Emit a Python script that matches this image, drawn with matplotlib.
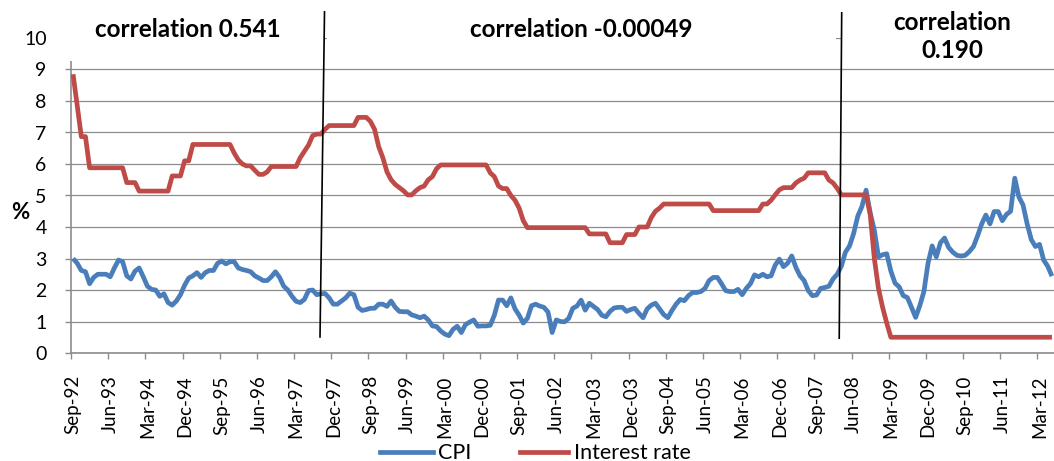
import matplotlib
matplotlib.use('Agg')
import matplotlib.pyplot as plt
from matplotlib.lines import Line2D
from matplotlib.patches import Rectangle
import numpy as np

plt.rcParams['font.family'] = ['Lato', 'DejaVu Sans']

tick_labels = ['Sep-92', 'Jun-93', 'Mar-94', 'Dec-94', 'Sep-95', 'Jun-96', 'Mar-97',
               'Dec-97', 'Sep-98', 'Jun-99', 'Mar-00', 'Dec-00', 'Sep-01', 'Jun-02',
               'Mar-03', 'Dec-03', 'Sep-04', 'Jun-05', 'Mar-06', 'Dec-06', 'Sep-07',
               'Jun-08', 'Mar-09', 'Dec-09', 'Sep-10', 'Jun-11', 'Mar-12']

# monthly values, Sep-92 .. Jun-12
cpi = [
    3.00, 2.85, 2.62, 2.58, 2.20, 2.40, 2.50, 2.50, 2.50, 2.42, 2.70, 2.95,
    2.90, 2.45, 2.35, 2.60, 2.70, 2.42, 2.12, 2.02, 2.00, 1.80, 1.88, 1.60,
    1.52, 1.65, 1.85, 2.15, 2.38, 2.45, 2.55, 2.40, 2.55, 2.62, 2.62, 2.85,
    2.92, 2.83, 2.90, 2.90, 2.70, 2.65, 2.62, 2.58, 2.45, 2.38, 2.30, 2.30,
    2.42, 2.58, 2.40, 2.12, 2.00, 1.80, 1.64, 1.60, 1.70, 1.98, 2.00, 1.85,
    1.88, 1.89, 1.75, 1.55, 1.55, 1.65, 1.75, 1.90, 1.85, 1.45, 1.35, 1.38,
    1.42, 1.42, 1.55, 1.55, 1.48, 1.65, 1.45, 1.32, 1.31, 1.31, 1.21, 1.17,
    1.12, 1.17, 1.05, 0.86, 0.84, 0.70, 0.60, 0.55, 0.75, 0.85, 0.65, 0.90,
    0.98, 1.05, 0.85, 0.86, 0.86, 0.88, 1.20, 1.68, 1.68, 1.50, 1.75, 1.40,
    1.20, 0.95, 1.10, 1.50, 1.55, 1.49, 1.45, 1.30, 0.65, 1.05, 1.00, 0.99,
    1.10, 1.42, 1.49, 1.68, 1.36, 1.58, 1.48, 1.38, 1.20, 1.15, 1.32, 1.43,
    1.45, 1.45, 1.32, 1.38, 1.42, 1.26, 1.12, 1.40, 1.52, 1.58, 1.40, 1.22,
    1.12, 1.35, 1.55, 1.70, 1.66, 1.82, 1.92, 1.92, 1.95, 2.05, 2.30, 2.40,
    2.40, 2.20, 1.98, 1.95, 1.95, 2.02, 1.85, 2.05, 2.20, 2.48, 2.42, 2.50,
    2.42, 2.45, 2.79, 2.98, 2.74, 2.85, 3.08, 2.72, 2.45, 2.30, 1.98, 1.82,
    1.84, 2.05, 2.08, 2.12, 2.35, 2.50, 2.75, 3.20, 3.40, 3.80, 4.35, 4.65,
    5.17, 4.45, 3.90, 3.05, 3.12, 3.15, 2.60, 2.22, 2.10, 1.82, 1.76, 1.45,
    1.13, 1.50, 1.95, 2.85, 3.40, 3.05, 3.50, 3.65, 3.35, 3.20, 3.10, 3.08,
    3.10, 3.22, 3.38, 3.72, 4.10, 4.38, 4.10, 4.49, 4.49, 4.20, 4.40, 4.50,
    5.55, 4.95, 4.70, 4.10, 3.60, 3.38, 3.45, 2.95, 2.75, 2.44,
]

interest_rate = [
    8.85, 7.86, 6.87, 6.87, 5.88, 5.88, 5.88, 5.88, 5.88, 5.88, 5.88, 5.88,
    5.88, 5.41, 5.41, 5.41, 5.14, 5.14, 5.14, 5.14, 5.14, 5.14, 5.14, 5.14,
    5.62, 5.62, 5.62, 6.10, 6.10, 6.62, 6.62, 6.62, 6.62, 6.62, 6.62, 6.62,
    6.62, 6.62, 6.62, 6.35, 6.13, 6.00, 5.94, 5.94, 5.80, 5.67, 5.67, 5.75,
    5.92, 5.92, 5.92, 5.92, 5.92, 5.92, 5.92, 6.20, 6.40, 6.60, 6.90, 6.95,
    6.95, 7.10, 7.22, 7.22, 7.22, 7.22, 7.22, 7.22, 7.22, 7.48, 7.48, 7.48,
    7.35, 7.10, 6.55, 6.20, 5.75, 5.50, 5.35, 5.25, 5.15, 5.02, 5.02, 5.15,
    5.25, 5.30, 5.50, 5.60, 5.85, 5.97, 5.97, 5.97, 5.97, 5.97, 5.97, 5.97,
    5.97, 5.97, 5.97, 5.97, 5.97, 5.72, 5.60, 5.30, 5.22, 5.22, 5.00, 4.85,
    4.60, 4.20, 3.98, 3.98, 3.98, 3.98, 3.98, 3.98, 3.98, 3.98, 3.98, 3.98,
    3.98, 3.98, 3.98, 3.98, 3.98, 3.78, 3.78, 3.78, 3.78, 3.78, 3.50, 3.50,
    3.50, 3.50, 3.76, 3.76, 3.76, 4.00, 4.00, 4.00, 4.30, 4.50, 4.60, 4.73,
    4.73, 4.73, 4.73, 4.73, 4.73, 4.73, 4.73, 4.73, 4.73, 4.73, 4.73, 4.52,
    4.52, 4.52, 4.52, 4.52, 4.52, 4.52, 4.52, 4.52, 4.52, 4.52, 4.52, 4.73,
    4.73, 4.85, 5.02, 5.18, 5.25, 5.25, 5.25, 5.40, 5.49, 5.55, 5.72, 5.72,
    5.72, 5.72, 5.72, 5.49, 5.40, 5.23, 5.02, 5.02, 5.02, 5.02, 5.02, 5.02,
    5.02, 4.40, 3.00, 2.05, 1.45, 0.95, 0.50, 0.50, 0.50, 0.50, 0.50, 0.50,
    0.50, 0.50, 0.50, 0.50, 0.50, 0.50, 0.50, 0.50, 0.50, 0.50, 0.50, 0.50,
    0.50, 0.50, 0.50, 0.50, 0.50, 0.50, 0.50, 0.50, 0.50, 0.50, 0.50, 0.50,
    0.50, 0.50, 0.50, 0.50, 0.50, 0.50, 0.50, 0.50, 0.50, 0.50,
]

series_names = ['CPI', 'Interest rate']
corr_labels = ['correlation 0.541', 'correlation -0.00049', 'correlation', '0.190']

BLUE = '#4A7EBB'
RED = '#BE4B48'
GRID = '#8C8C8C'
LW = 3.4

W, H = 1054, 461
fig = plt.figure(figsize=(W / 100, H / 100), dpi=100)


def fx(px):
    return px / W


def fy(py):
    return 1 - py / H


ax = fig.add_axes([fx(71), fy(353), fx(1054) - fx(71), fy(38) - fy(353)])
x = np.arange(len(cpi))
ax.plot(x, cpi, color=BLUE, lw=LW, solid_joinstyle='round', solid_capstyle='butt', zorder=3)
ax.plot(x, interest_rate, color=RED, lw=LW, solid_joinstyle='round', solid_capstyle='butt', zorder=3)

ax.set_xlim(-0.5, len(cpi) - 0.5)
ax.set_ylim(0, 10)
ax.set_yticks(range(0, 11))
ax.yaxis.grid(True, color=GRID, lw=0.9)
ax.set_axisbelow(True)
for s in ['top', 'right']:
    ax.spines[s].set_visible(False)
for s in ['left', 'bottom']:
    ax.spines[s].set_color(GRID)
    ax.spines[s].set_linewidth(1.2)

ax.set_xticks(np.arange(-0.5, len(cpi), 9))
ax.set_xticklabels([])
ax.set_xticks(np.arange(0, len(cpi), 9), minor=True)
ax.set_xticklabels(tick_labels, minor=True, rotation=90, fontsize=13.5, va='top', ha='center')
ax.tick_params(axis='x', which='major', length=4.5, color=GRID, width=1)
ax.tick_params(axis='x', which='minor', length=0, pad=16)
ax.tick_params(axis='y', length=4.5, color=GRID, width=1, labelsize=14, pad=13)

# white text boxes covering the top of the plot area
for x0, x1, y1 in [(55, 324, 61), (327, 836, 61), (841, 1054, 64)]:
    fig.add_artist(Rectangle((fx(x0), fy(y1)), fx(x1) - fx(x0), fy(0) - fy(y1),
                             transform=fig.transFigure, facecolor='white',
                             edgecolor='none', zorder=4))

# separator lines
fig.add_artist(Line2D([60.88, 59.79], [10.83, 0.51], transform=ax.transData,
                      color='black', lw=1.2, zorder=5))
fig.add_artist(Line2D([186.1, 185.5], [10.8, 0.47], transform=ax.transData,
                      color='black', lw=1.2, zorder=5))

CF = 17.5
fig.text(fx(188), fy(37), corr_labels[0], ha='center', va='baseline',
         fontsize=CF, fontweight='bold', zorder=6)
fig.text(fx(581), fy(37), corr_labels[1], ha='center', va='baseline',
         fontsize=CF, fontweight='bold', zorder=6)
fig.text(fx(952), fy(30.5), corr_labels[2], ha='center', va='baseline',
         fontsize=CF, fontweight='bold', zorder=6)
fig.text(fx(952), fy(58), corr_labels[3], ha='center', va='baseline',
         fontsize=CF, fontweight='bold', zorder=6)

fig.text(fx(20), fy(212.5), '%', ha='center', va='center', fontsize=16, fontweight='bold')

# legend
fig.add_artist(Line2D([fx(380), fx(433)], [fy(451.5), fy(451.5)], transform=fig.transFigure,
                      color=BLUE, lw=LW))
fig.text(fx(438), fy(459), series_names[0], ha='left', va='baseline', fontsize=15.5)
fig.add_artist(Line2D([fx(520), fx(568)], [fy(451.5), fy(451.5)], transform=fig.transFigure,
                      color=RED, lw=LW))
fig.text(fx(574), fy(459), series_names[1], ha='left', va='baseline', fontsize=15.5)

fig.savefig('out.png', dpi=100)
